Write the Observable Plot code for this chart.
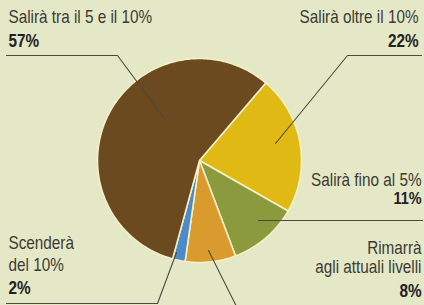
<!DOCTYPE html>
<html>
<head>
<meta charset="utf-8">
<script src="https://cdn.jsdelivr.net/npm/d3@7"></script>
<script src="https://cdn.jsdelivr.net/npm/@observablehq/plot@0.6"></script>
<style>
  html, body { margin: 0; padding: 0; background: #e5e8c7; }
  #chart svg { display: block; }
</style>
</head>
<body>
<div id="chart"></div>
<script>
// ---- data ----
const categories = [
  "Salirà oltre il 10%",
  "Salirà fino al 5%",
  "Rimarrà agli attuali livelli",
  "Scenderà del 10%",
  "Salirà tra il 5 e il 10%"
];
const values = [22, 11, 8, 2, 57];
const colors = ["#e1b915", "#8b9a3c", "#d99b2d", "#4b8bc9", "#6b4a1f"];
const percentLabels = ["22%", "11%", "8%", "2%", "57%"];

// ---- geometry (computed from data) ----
const cx = 199, cy = 160, r = 102;
const start = 40.5 * Math.PI / 180;
const arcs = d3.pie().sort(null).startAngle(start).endAngle(start + 2 * Math.PI)(values);
const slices = arcs.map((a, i) => {
  const pts = [{x: cx, y: cy}];
  const n = Math.max(2, Math.ceil((a.endAngle - a.startAngle) / (Math.PI / 180)));
  for (let k = 0; k <= n; k++) {
    const t = a.startAngle + (a.endAngle - a.startAngle) * k / n;
    pts.push({x: cx + r * Math.sin(t), y: cy - r * Math.cos(t)});
  }
  return {pts, color: colors[i]};
});

const font = "'Liberation Sans', Arial, Helvetica, sans-serif";
const textColor = "#3b3b35";
const lineColor = "#4a4a3e";

// label layout: [text, x, y(baseline), anchor, bold, size]
const labelLayout = [
  ["Salirà tra il 5 e il 10%", 8, 22, "start", false, 18],
  [percentLabels[4], 8, 46, "start", true, 18],
  ["Salirà oltre il 10%", 418, 22, "end", false, 18],
  [percentLabels[0], 418, 46, "end", true, 18],
  ["Salirà fino al 5%", 421, 185, "end", false, 18],
  [percentLabels[1], 421, 203, "end", true, 17],
  ["Rimarrà", 421, 253, "end", false, 18],
  ["agli attuali livelli", 421, 272, "end", false, 18],
  [percentLabels[2], 421, 296, "end", true, 18],
  ["Scenderà", 8, 248, "start", false, 18],
  ["del 10%", 8, 270, "start", false, 18],
  [percentLabels[3], 8, 293, "start", true, 18]
].map(([text, x, y, anchor, bold, size]) => ({text, x, y, anchor, bold, size}));

const leaders = [
  [{x: 6, y: 55}, {x: 117, y: 55}, {x: 163, y: 117}],
  [{x: 421, y: 55}, {x: 347, y: 55}, {x: 275, y: 143}],
  [{x: 258, y: 220}, {x: 422, y: 220}],
  [{x: 6, y: 303}, {x: 157, y: 303}, {x: 176, y: 252}],
  [{x: 208, y: 250}, {x: 237, y: 308}]
];

const marks = [];
slices.forEach(s => {
  marks.push(Plot.line(s.pts, {x: "x", y: "y", curve: "linear-closed", fill: s.color, stroke: "#f4efc6", strokeWidth: 1.6, strokeLinejoin: "round"}));
});
leaders.forEach(l => {
  marks.push(Plot.line(l, {x: "x", y: "y", stroke: lineColor, strokeWidth: 1.1}));
});
labelLayout.forEach(d => {
  marks.push(Plot.text([d], {
    x: "x", y: "y", text: "text", textAnchor: d.anchor, lineAnchor: "bottom",
    fill: d.bold ? "#222" : textColor, fontWeight: d.bold ? "bold" : "normal",
    fontSize: d.size, fontFamily: font, className: "lbl"
  }));
});

const chart = Plot.plot({
  width: 424,
  height: 305,
  margin: 0,
  style: {background: "#e5e8c7", fontFamily: font},
  x: {domain: [0, 424], range: [0, 424], axis: null},
  y: {domain: [0, 305], range: [0, 305], axis: null},
  marks
});
document.getElementById("chart").appendChild(chart);

// emulate a condensed typeface (narrow Helvetica look) by horizontal scaling about the anchor
d3.select(chart).selectAll("g.lbl text").each(function () {
  const x = +this.getAttribute("x") || 0;
  const y = +this.getAttribute("y") || 0;
  const t = this.getAttribute("transform") || "";
  this.setAttribute("transform", `${t} translate(${x},${y}) scale(0.85,1) translate(${-x},${-y})`);
});
</script>
</body>
</html>
